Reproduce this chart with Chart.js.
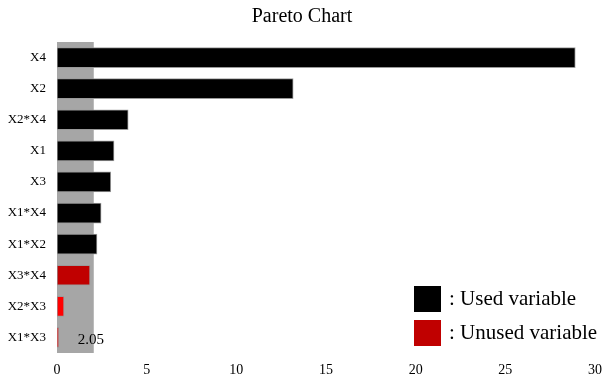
<!DOCTYPE html>
<html>
<head>
<meta charset="utf-8">
<script src="https://cdn.jsdelivr.net/npm/chart.js@4"></script>
<style>
html,body{margin:0;padding:0;background:#fff;}
#wrap{width:604px;height:382px;}
</style>
</head>
<body>
<div id="wrap"><canvas id="paretoChart"></canvas></div>
<script>

// data
const terms = ["X4","X2","X2*X4","X1","X3","X1*X4","X1*X2","X3*X4","X2*X3","X1*X3"];
const effects = [28.9,13.17,3.97,3.18,3.0,2.46,2.23,1.84,0.39,0.1];
const barColors = ["#000000","#000000","#000000","#000000","#000000","#000000","#000000","#c00000","#ff0000","#ff0000"];
const xTicks = [0,5,10,15,20,25,30];
const threshold = 2.05;
const legendItems = [": Used variable",": Unused variable"];
const legendColors = ["#000000","#c00000"];

const FONT = "'Liberation Serif','Times New Roman',serif";

// gray band from 0 to the threshold, plus its label
const bandPlugin = {
id:"band",
beforeDatasetsDraw(chart){
const ctx = chart.ctx;
const x = chart.scales.x;
const area = chart.chartArea;
const x0 = x.getPixelForValue(0);
const x1 = x.getPixelForValue(threshold);
ctx.save();
ctx.fillStyle = "#a6a6a6";
ctx.fillRect(x0, area.top, x1-x0, area.bottom-area.top);
ctx.restore();
},
afterDatasetsDraw(chart){
const ctx = chart.ctx;
const x = chart.scales.x;
const y = chart.scales.y;
ctx.save();
ctx.fillStyle = "#000";
ctx.font = "15px "+FONT;
ctx.textAlign = "center";
ctx.textBaseline = "middle";
ctx.fillText(threshold.toFixed(2), x.getPixelForValue(threshold)-3, y.getPixelForValue(terms.length-1)+3);
ctx.restore();
}
};

// legend boxes in lower right
const legendPlugin = {
id:"customLegend",
afterDraw(chart){
const ctx = chart.ctx;
ctx.save();
legendItems.forEach((txt,i)=>{
const top = 286 + i*34;
ctx.fillStyle = legendColors[i];
ctx.fillRect(414, top, 27, 26);
ctx.fillStyle = "#000";
ctx.font = "21px "+FONT;
ctx.textAlign = "left";
ctx.textBaseline = "middle";
ctx.fillText(txt, 449, top+13);
});
ctx.restore();
}
};

new Chart(document.getElementById("paretoChart"),{
type:"bar",
data:{
labels:terms,
datasets:[{
data:effects,
backgroundColor:barColors,
borderColor:"#9a9a9a",
borderWidth:1,
borderSkipped:false,
barThickness:20
}]
},
options:{
indexAxis:"y",
responsive:true,
maintainAspectRatio:false,
animation:false,
layout:{padding:{left:0,right:0,top:0,bottom:0}},
plugins:{
legend:{display:false},
tooltip:{enabled:false},
title:{
display:true,
text:"Pareto Chart",
color:"#000",
font:{family:FONT,size:20,weight:"normal"},
padding:{top:5,bottom:13}
}
},
scales:{
x:{
min:0,
max:30,
afterBuildTicks(scale){
scale.ticks = xTicks.map(v=>({value:v}));
},
grid:{display:false,drawTicks:false},
border:{display:false},
ticks:{color:"#000",font:{family:FONT,size:14},padding:9},
afterFit(scale){
scale.height = 29;
scale.paddingRight = 9;
scale.paddingLeft = 0;
}
},
y:{
grid:{display:false,drawTicks:false},
border:{display:false},
ticks:{color:"#000",font:{family:FONT,size:13},padding:11},
afterFit(scale){scale.width = 57;}
}
}
},
plugins:[bandPlugin,legendPlugin]
});

</script>
</body>
</html>
